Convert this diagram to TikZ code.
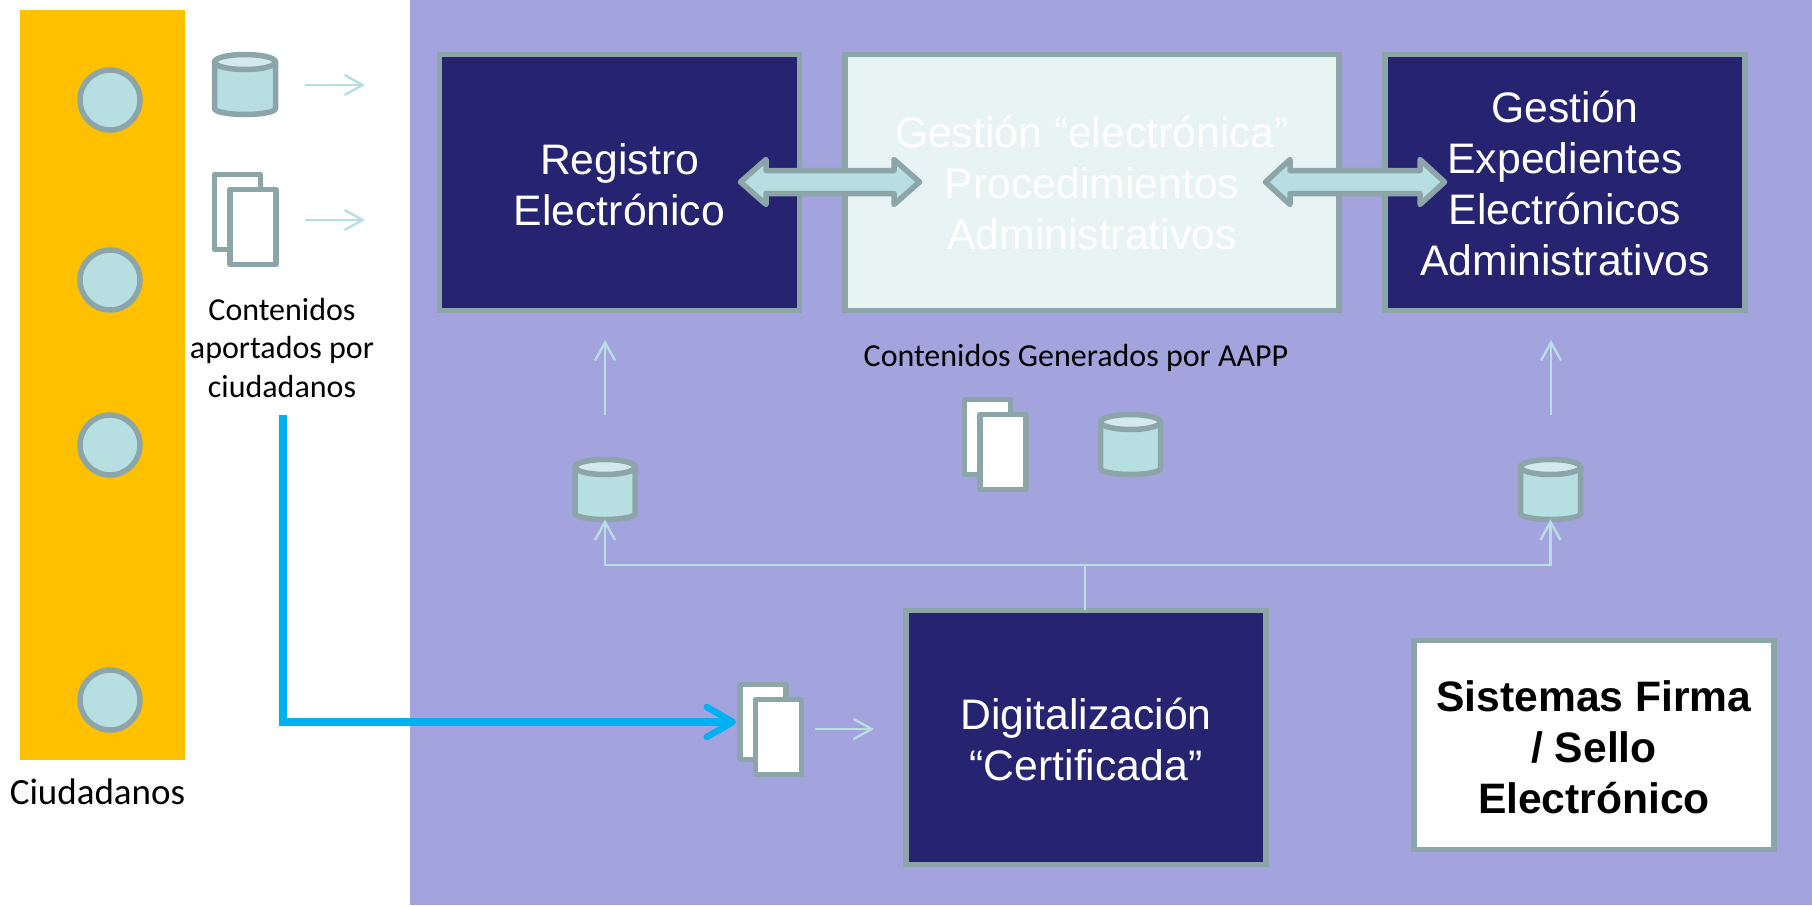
\documentclass[tikz,border=0pt]{standalone}
\usepackage{fontspec}
\setmainfont{Liberation Sans}
\newfontfamily\carlito{Carlito}
\usetikzlibrary{arrows.meta}
\definecolor{panel}{HTML}{A3A3DE}
\definecolor{amber}{HTML}{FFC000}
\definecolor{navy}{HTML}{262470}
\definecolor{edge}{HTML}{8CA5A8}
\definecolor{teal}{HTML}{B7DEE1}
\definecolor{tealtop}{HTML}{D3E9EE}
\definecolor{pale}{HTML}{E8F4F4}
\definecolor{cyanline}{HTML}{00B0F0}
\tikzset{
  x=1pt,y=-1pt,
  every node/.style={inner sep=0pt,outer sep=0pt},
  bigbox/.style={draw=edge,line width=5.5pt,align=center,text=white,font=\fontsize{42.7}{51}\selectfont},
  navybox/.style={bigbox,fill=navy},
  palebox/.style={bigbox,fill=pale},
  person/.style={circle,draw=edge,fill=teal,line width=5.5pt,minimum size=60pt},
  note/.style={font=\carlito\fontsize{32}{38.4}\selectfont,align=center,text=black},
  thin arrow/.style={draw=teal,line width=2.4pt,-{Straight Barb[length=18pt,width=20pt,line width=2.4pt]}},
  thin line/.style={draw=teal,line width=2.4pt},
  dblarrow/.style={draw=edge,fill=teal,line width=5.5pt,line join=round},
  sheet/.style={draw=edge,fill=white,line width=5.5pt,line join=round,minimum width=46pt,minimum height=75pt},
  drum/.style={draw=edge,fill=teal,line width=5.5pt,line join=round},
  drumtop/.style={draw=edge,fill=tealtop,line width=5.5pt},
}
% \drumicon{name}{x}{y}{half width}{top}{bottom}: centre x, centre-line values
\newcommand{\drumicon}[6]{%
  \coordinate (#1) at (#2,#3);
  \coordinate (#1-top) at (#2,#5);
  \coordinate (#1-bot) at (#2,#6);
  \draw[drum] (#2-#4,#5) -- (#2-#4,#6-6) arc[start angle=180,end angle=360,x radius=#4,y radius=-6] -- (#2+#4,#5);
  \fill[teal] (#2-#4+2,#5) rectangle (#2+#4-2,#5+5);
  \draw[drumtop] (#2,#5) ellipse[x radius=#4,y radius=7.5];
}
\newcommand{\sheets}[3]{%
  \node[sheet,anchor=north west] (#1-back) at (#2,#3) {};
  \node[sheet,anchor=north west] (#1-front) at (#2+15.5,#3+15) {};
}
% block text lowered inside its box: extra declared height moves it down by #1
\newcommand{\lowered}[2]{\raisebox{0pt}[\dimexpr\height+#1+#1\relax][\depth]{\begin{tabular}{@{}c@{}}#2\end{tabular}}}
% \blockarrow{left tip}{left base}{right base}{right tip}{y}
\newcommand{\blockarrow}[5]{%
  \draw[dblarrow] (#1,#5) -- (#2,#5-22.5) -- (#2,#5-11.5) -- (#3,#5-11.5) -- (#3,#5-22.5) -- (#4,#5)
    -- (#3,#5+22.5) -- (#3,#5+11.5) -- (#2,#5+11.5) -- (#2,#5+22.5) -- cycle;
}
\begin{document}
\begin{tikzpicture}
\useasboundingbox (0,0) rectangle (1812,905);
\fill[white] (0,0) rectangle (1812,905);
\fill[panel] (410,0) rectangle (1812,905);
\fill[amber] (20,10) rectangle (185,760);

\node[person] (p1) at (110,100) {};
\node[person] (p2) at (110,280) {};
\node[person] (p3) at (110,445) {};
\node[person] (p4) at (110,700) {};
\node[note,font=\carlito\fontsize{37}{44}\selectfont,anchor=base] (ciud) at (97.5,804) {Ciudadanos};

\drumicon{c1}{245}{85}{30.5}{62}{114.5}
\coordinate (c1a) at (305,85);
\coordinate (c1b) at (365,85);
\draw[thin arrow] (c1a) -- (c1b);
\sheets{d1}{214.5}{174.5}
\coordinate (d1a) at (305,220);
\coordinate (d1b) at (365,220);
\draw[thin arrow] (d1a) -- (d1b);
\node[note,anchor=north] (aport) at (282,298) {Contenidos\\aportados por\\ciudadanos};

\node[navybox,minimum width=360pt,minimum height=256pt] (reg) at (619.5,182.5) {\lowered{7.5pt}{Registro\\Electrónico}};
\node[palebox,minimum width=494pt,minimum height=256pt] (gest) at (1092,182.5) {\lowered{5.8pt}{Gestión “electrónica”\\Procedimientos\\Administrativos}};
\node[navybox,minimum width=360pt,minimum height=256pt] (exp) at (1565,182.5) {\lowered{6.4pt}{Gestión\\Expedientes\\Electrónicos\\Administrativos}};
\node[navybox,minimum width=360pt,minimum height=254pt] (dig) at (1086,737.3) {\lowered{7pt}{Digitalización\\“Certificada”}};
\node[bigbox,fill=white,text=black,minimum width=360pt,minimum height=209pt,font=\bfseries\fontsize{42.6}{51}\selectfont] (firma) at (1594,745) {\lowered{7.5pt}{Sistemas Firma\\/ Sello\\Electrónico}};

\blockarrow{740.5}{766}{894}{919.5}{182}
\blockarrow{1265.5}{1290}{1420}{1444.5}{182}

\node[note,anchor=base] (gen) at (1076,366) {Contenidos Generados por AAPP};
\sheets{d2}{964.5}{399.5}
\drumicon{c2}{1130.5}{445}{30}{422}{474.5}
\drumicon{c3}{605}{490}{30}{467}{519.5}
\drumicon{c4}{1550.5}{490}{30}{467}{519.5}

\coordinate (u1) at (605,415);
\coordinate (u1t) at (605,340);
\draw[thin arrow] (u1) -- (u1t);
\coordinate (u2) at (1551,415);
\coordinate (u2t) at (1551,340);
\draw[thin arrow] (u2) -- (u2t);

\coordinate (bus) at (1085,565);
\draw[thin line] (dig.north -| bus) -- (bus);
\draw[thin arrow] (bus) -| (c3-bot);
\draw[thin arrow] (bus) -| (c4-bot);

\sheets{d3}{740}{684.5}
\coordinate (d3b) at (815,729);
\coordinate (d3t) at (874,729);
\draw[thin arrow] (d3b) -- (d3t);

\coordinate (blue) at (282.5,415);
\coordinate (bluec) at (736,722);
\draw[cyanline,line width=8pt,-{Straight Barb[length=26pt,width=30pt,line width=6.5pt,round]}] (blue) |- (bluec);
\end{tikzpicture}
\end{document}
